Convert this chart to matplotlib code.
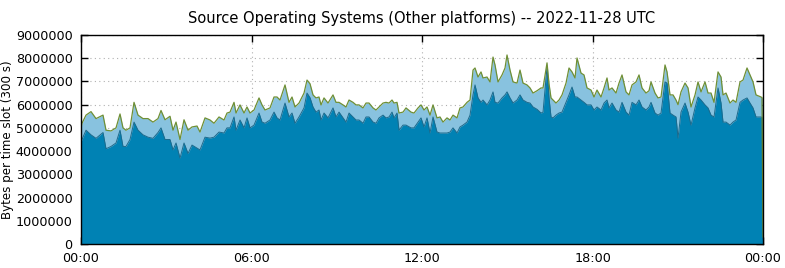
import matplotlib.pyplot as plt
import numpy as np

# time of each sample (axis runs 81 -> 763 px over 24 h)
sample_px = [
    81, 82, 86, 91, 96, 103, 106, 111, 116, 120, 123, 126, 130, 134, 138, 143, 148, 153, 158, 161,
    165, 170, 173, 176, 180, 184, 188, 192, 197, 200, 205, 210, 214, 219, 224, 227, 230, 234, 236, 240,
    244, 247, 250, 254, 259, 262, 265, 270, 274, 277, 280, 285, 289, 292, 295, 299, 304, 307, 310, 313,
    316, 319, 321, 324, 328, 333, 336, 339, 343, 346, 349, 353, 356, 359, 363, 366, 369, 373, 376, 379,
    383, 386, 389, 392, 394, 397, 399, 403, 406, 411, 414, 418, 421, 424, 427, 430, 433, 437, 440, 443,
    447, 450, 453, 457, 460, 463, 467, 470, 473, 475, 478, 481, 483, 487, 490, 493, 495, 498, 502, 505,
    507, 510, 513, 517, 520, 523, 527, 530, 533, 537, 541, 543, 547, 549, 551, 553, 556, 559, 562, 566,
    569, 572, 575, 577, 581, 584, 587, 591, 594, 597, 601, 604, 607, 609, 612, 616, 619, 622, 626, 629,
    632, 636, 639, 642, 646, 649, 651, 655, 658, 661, 665, 667, 670, 673, 676, 678, 681, 685, 688, 691,
    695, 698, 701, 705, 708, 711, 714, 718, 721, 723, 726, 730, 733, 736, 740, 743, 747, 750, 753, 756,
    761, 762, 763,
]

# total bytes per slot (top of the stack), in millions
total_m = [
    5.0, 5.2, 5.55, 5.7, 5.4, 5.55, 4.9, 4.87, 5.0, 5.6, 5.0, 4.9, 5.0, 6.1, 5.55, 5.4, 5.4, 5.25, 5.4, 5.75,
    5.35, 5.5, 4.9, 5.25, 4.5, 5.35, 4.9, 5.04, 5.08, 4.82, 5.43, 5.34, 5.2, 5.47, 5.34, 5.64, 5.68, 6.1, 5.64, 5.99,
    5.64, 5.9, 5.64, 5.77, 6.29, 5.99, 5.77, 5.86, 6.33, 6.33, 6.2, 6.85, 6.1, 6.33, 5.9, 6.07, 6.5, 7.06, 6.9, 6.42,
    6.29, 6.33, 5.99, 6.29, 6.07, 6.42, 6.1, 6.1, 5.99, 5.9, 6.2, 6.1, 5.99, 5.99, 5.86, 6.07, 6.07, 5.86, 5.77, 5.9,
    6.07, 6.1, 6.07, 6.2, 6.07, 6.1, 5.64, 5.68, 5.86, 5.68, 5.64, 5.86, 5.99, 5.77, 5.9, 5.55, 5.99, 5.43, 5.47, 5.25,
    5.43, 5.34, 5.55, 5.43, 5.86, 5.9, 6.1, 6.2, 7.49, 7.58, 7.19, 7.41, 7.15, 7.19, 6.98, 8.05, 7.71, 6.98, 7.28, 7.58,
    8.14, 7.49, 6.98, 6.93, 7.49, 6.93, 6.85, 6.72, 6.5, 6.6, 6.72, 6.72, 7.8, 6.9, 6.29, 6.2, 6.07, 6.2, 6.42, 6.93,
    7.58, 7.41, 7.15, 8.01, 7.36, 7.28, 6.72, 6.63, 6.33, 6.63, 6.33, 6.72, 7.15, 6.63, 6.72, 6.5, 6.93, 7.28, 6.55, 6.42,
    6.85, 6.98, 7.28, 6.72, 6.5, 6.6, 6.98, 6.5, 6.29, 6.33, 7.71, 7.41, 6.42, 6.42, 6.2, 6.0, 6.55, 6.93, 6.72, 5.9,
    6.42, 6.98, 6.55, 6.98, 6.5, 6.5, 6.1, 7.41, 7.19, 6.42, 6.5, 6.07, 6.2, 6.1, 6.98, 7.06, 7.58, 7.28, 6.98, 6.42,
    6.33, 6.3, 0.3,
]

# bytes per slot of the largest platform (bottom layer), in millions
bottom_m = [
    4.4, 4.5, 4.9, 4.7, 4.55, 4.8, 4.1, 4.2, 4.35, 4.9, 4.2, 4.2, 4.5, 5.25, 4.9, 4.7, 4.6, 4.55, 4.8, 5.0,
    4.5, 4.5, 4.05, 4.35, 3.7, 4.35, 3.9, 4.26, 4.13, 4.05, 4.6, 4.56, 4.6, 4.82, 4.78, 5.0, 5.0, 5.47, 4.9, 5.34,
    5.0, 5.43, 5.0, 5.12, 5.64, 5.25, 5.2, 5.34, 5.68, 5.43, 5.34, 6.07, 5.47, 5.64, 5.2, 5.47, 5.86, 6.5, 6.3, 5.9,
    5.68, 5.77, 5.34, 5.64, 5.43, 5.86, 5.47, 5.68, 5.43, 5.25, 5.64, 5.47, 5.34, 5.34, 5.2, 5.47, 5.47, 5.25, 5.2, 5.43,
    5.55, 5.43, 5.47, 5.68, 5.43, 5.64, 4.9, 5.12, 5.12, 5.0, 5.0, 5.25, 5.43, 5.04, 5.43, 4.78, 5.47, 4.82, 4.78, 4.78,
    4.78, 4.82, 5.0, 4.78, 5.04, 5.12, 5.25, 5.55, 6.42, 6.85, 6.29, 6.1, 6.2, 5.99, 6.2, 6.55, 6.1, 6.07, 6.29, 6.42,
    6.55, 6.29, 6.07, 6.2, 6.42, 6.2, 6.1, 6.07, 5.9, 5.8, 5.64, 5.68, 7.62, 6.29, 5.47, 5.43, 5.55, 5.64, 5.68, 6.1,
    6.42, 6.76, 6.33, 6.33, 6.2, 6.1, 5.99, 5.99, 5.77, 5.9, 5.77, 6.07, 6.2, 5.86, 6.07, 5.77, 5.68, 6.1, 5.68, 5.55,
    6.1, 5.99, 6.2, 5.9, 5.77, 5.9, 6.1, 5.64, 5.55, 5.64, 6.98, 6.93, 5.64, 5.55, 5.47, 4.56, 5.68, 6.07, 5.68, 5.12,
    5.86, 6.33, 6.2, 5.99, 5.86, 5.55, 5.47, 6.72, 6.07, 5.25, 5.25, 5.12, 5.25, 5.34, 6.1, 6.2, 6.29, 6.07, 5.86, 5.47,
    5.47, 5.45, 0.2,
]

x_ticks = [0, 6, 12, 18, 24]
x_tick_labels = ['00:00', '06:00', '12:00', '18:00', '00:00']
y_ticks = [0, 1000000, 2000000, 3000000, 4000000, 5000000, 6000000, 7000000, 8000000, 9000000]

DARK_BLUE = '#0082b4'
LIGHT_BLUE = '#88c2df'
OLIVE = '#6f8f35'

hours = (np.array(sample_px) - 81) * 24.0 / 682.0
total = np.array(total_m) * 1e6
bottom = np.array(bottom_m) * 1e6

fig = plt.figure(figsize=(7.85, 2.68), dpi=100)
ax = fig.add_axes([0.1032, 0.0896, 0.8688, 0.7798])

ax.fill_between(hours, 0, total, color=LIGHT_BLUE, linewidth=0, zorder=2)
ax.fill_between(hours, 0, bottom, color=DARK_BLUE, linewidth=0, zorder=3)
ax.plot(hours, bottom, color='#1d6a8c', linewidth=0.7, zorder=4)
ax.plot(hours, total, color=OLIVE, linewidth=0.9, zorder=5)

ax.set_xlim(0, 24)
ax.set_ylim(0, 9000000)
ax.set_xticks(x_ticks)
ax.set_xticklabels(x_tick_labels)
ax.set_yticks(y_ticks)
ax.set_yticklabels([str(v) for v in y_ticks])

# gnuplot style: inward ticks on all four sides, dotted grid
ax.tick_params(direction='in', length=5, width=1, top=True, right=True,
               labelsize=9.2, pad=6)
ax.grid(True, color='#b0b0b0', linestyle=(0, (1, 3)), linewidth=0.8, zorder=1)
ax.set_axisbelow(True)
for sp in ax.spines.values():
    sp.set_linewidth(1)
    sp.set_zorder(6)

ax.set_ylabel('Bytes per time slot (300 s)', fontsize=8.6, labelpad=1)
ax.set_title('Source Operating Systems (Other platforms) -- 2022-11-28 UTC',
             fontsize=10.5, pad=9)

fig.savefig('out.png', dpi=100)
